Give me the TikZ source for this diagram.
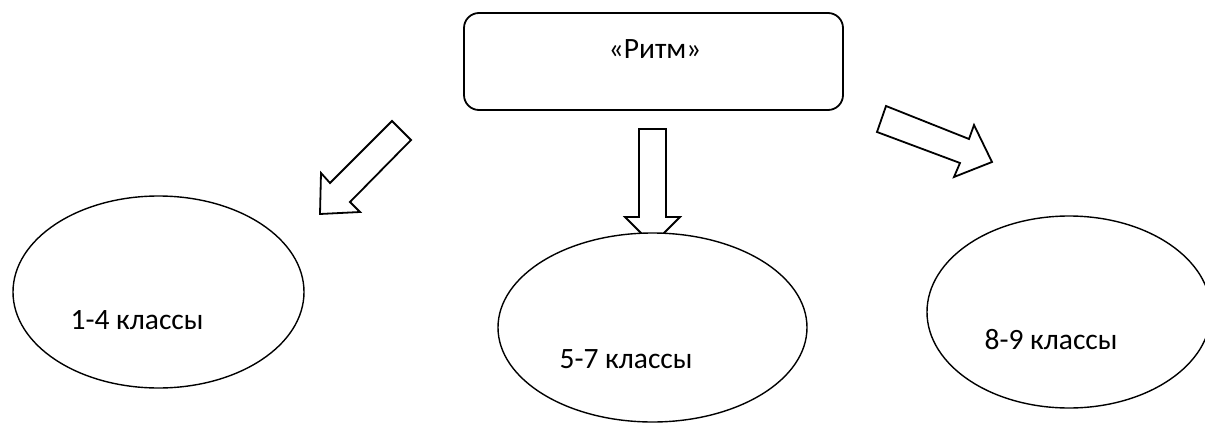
\documentclass[tikz,border=0pt]{standalone}
\usepackage{fontspec}
\setmainfont{Carlito}
\usetikzlibrary{shapes.geometric}
\begin{document}
\begin{tikzpicture}[x=1pt,y=-1pt,
  oval/.style={draw,ellipse,line width=1.4pt,fill=white,inner sep=0pt},
  blockarrow/.style={draw,line width=1.8pt,fill=white,line join=miter},
  lbl/.style={font=\fontsize{29.5}{34}\selectfont,inner sep=0pt,anchor=center}]
\useasboundingbox (0,0) rectangle (1205,423);
% top box
\node[draw,line width=1.8pt,rounded corners=15pt,minimum width=379pt,minimum height=97pt,inner sep=0pt] (box) at (653.5,61.5) {};
\node[lbl] (ritm) at (655,49) {«Ритм»};
% block arrows
\draw[blockarrow] (392,121) -- (411,140) -- (350,202) -- (360,212) -- (320,214) -- (321,173) -- (330,183) -- cycle;
\draw[blockarrow] (639,129) -- (666,129) -- (666,217) -- (680,217) -- (652.5,244.5) -- (625,217) -- (639,217) -- cycle;
\draw[blockarrow] (886,106) -- (969,139) -- (974,125) -- (992,162) -- (954,177) -- (960,163) -- (877,132) -- cycle;
% ellipses
\node[oval,minimum width=291pt,minimum height=192pt] (e1) at (158.5,292) {};
\node[oval,minimum width=309pt,minimum height=189pt] (e2) at (652.5,327.5) {};
\node[oval,minimum width=284pt,minimum height=192pt] (e3) at (1069,312) {};
\node[lbl] (t1) at (137,320) {1-4 классы};
\node[lbl] (t2) at (626,359) {5-7 классы};
\node[lbl] (t3) at (1051,340) {8-9 классы};
\end{tikzpicture}
\end{document}
